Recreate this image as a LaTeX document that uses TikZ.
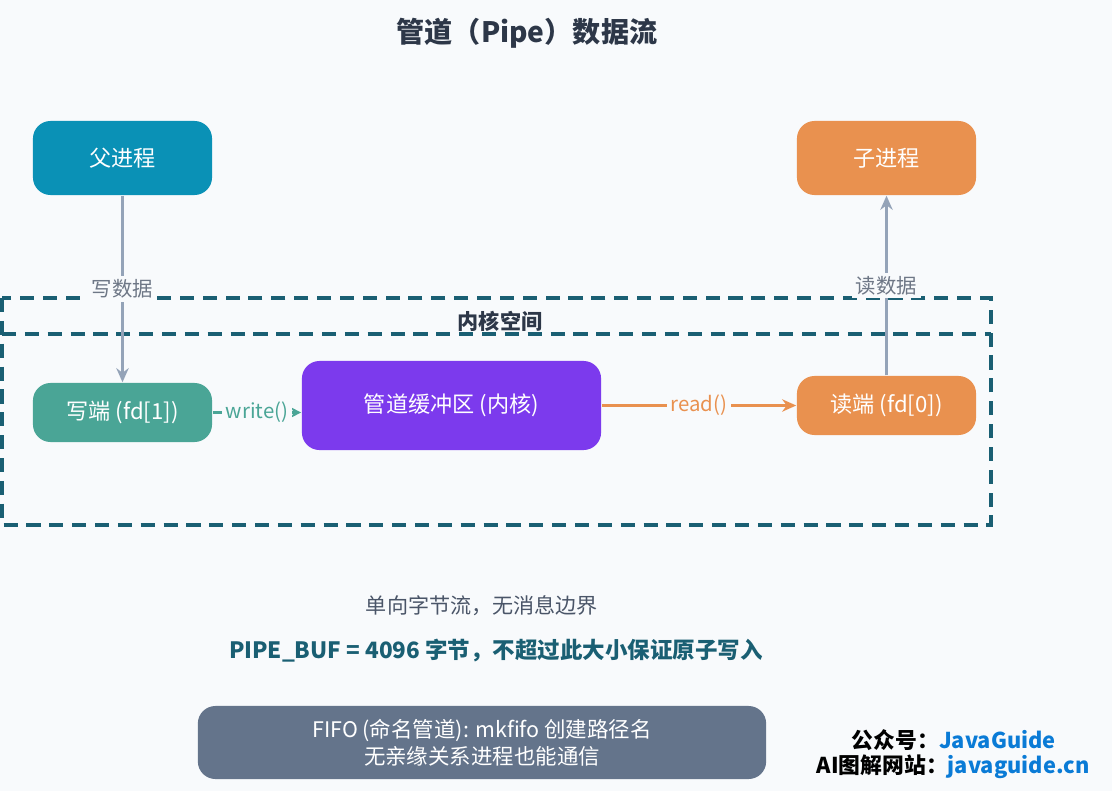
\documentclass[tikz,border=0pt]{standalone}
\usepackage{fontspec}
\setmainfont{Noto Sans CJK SC}
\usetikzlibrary{arrows.meta}
\definecolor{bg}{HTML}{F8FAFC}
\definecolor{ttl}{HTML}{2D3748}
\definecolor{fatherc}{HTML}{0A91B6}
\definecolor{childc}{HTML}{E9914F}
\definecolor{writec}{HTML}{4AA596}
\definecolor{bufc}{HTML}{7C3AED}
\definecolor{kern}{HTML}{1A5F73}
\definecolor{grayl}{HTML}{94A3B8}
\definecolor{fifoc}{HTML}{64748B}
\definecolor{txtg}{HTML}{4A5568}
\definecolor{blu}{HTML}{0A7BD6}
\tikzset{
  box/.style={draw=none,rounded corners=5pt,text=white,font=\fontsize{6.3}{7.5}\selectfont,inner sep=0pt},
  con/.style={line width=0.7pt,-{Stealth[length=4pt,width=3.5pt]}},
  lbl/.style={font=\fontsize{5.8}{7}\selectfont,fill=bg,inner sep=1pt},
  kdash/.style={kern,line width=0.9pt,dash pattern=on 4pt off 2.5pt},
}
\begin{document}
\begin{tikzpicture}[x=0.01cm,y=-0.01cm]
\fill[bg] (0,0) rectangle (1112,791);
\useasboundingbox (0,0) rectangle (1112,791);
\node[font=\bfseries\fontsize{8}{10}\selectfont,text=ttl] (title) at (527,33) {管道（Pipe）数据流};
% kernel region
\draw[kdash] (2,298) rectangle (991,525);
\coordinate (kl) at (2,334); \coordinate (kr) at (991,334);
\draw[kdash] (kl) -- (kr);
\node[font=\bfseries\fontsize{6}{7}\selectfont,text=ttl] (kt) at (500,321) {内核空间};
% boxes
\node[box,fill=fatherc,minimum width=1.79cm,minimum height=0.74cm] (father) at (122.5,158) {父进程};
\node[box,fill=childc,minimum width=1.79cm,minimum height=0.74cm] (child) at (886.5,158) {子进程};
\node[box,fill=writec,minimum width=1.79cm,minimum height=0.59cm] (wend) at (122.5,412.5) {写端 (fd[1])};
\node[box,fill=bufc,minimum width=2.99cm,minimum height=0.89cm] (buf) at (451.5,405.5) {管道缓冲区 (内核)};
\node[box,fill=childc,minimum width=1.79cm,minimum height=0.59cm] (rend) at (886.5,405.5) {读端 (fd[0])};
% connectors
\draw[con,grayl] (father) -- node[lbl,text=txtg!80,pos=0.5] {写数据} (wend);
\draw[con,writec,-{Stealth[length=3pt,width=3pt]}] (wend.east) -- node[lbl,text=writec,pos=0.5] {write()} (buf.west|-wend.east);
\draw[con,childc] (buf.east|-rend.west) -- node[lbl,text=childc,pos=0.5] {read()} (rend.west);
\draw[con,grayl] (rend) -- node[lbl,text=txtg!80,pos=0.5] {读数据} (child);
% notes
\node[font=\fontsize{6}{7}\selectfont,text=txtg] (n1) at (482,606) {单向字节流，无消息边界};
\node[font=\bfseries\fontsize{6.4}{7}\selectfont,text=kern] (n2) at (496,651) {PIPE\_BUF = 4096 字节，不超过此大小保证原子写入};
\node[box,fill=fifoc,minimum width=5.68cm,minimum height=0.73cm,align=center,font=\fontsize{6.1}{7.6}\selectfont] (fifo) at (482,742.5) {FIFO (命名管道): mkfifo 创建路径名\\无亲缘关系进程也能通信};
\node[font=\bfseries\fontsize{6.2}{7}\selectfont,anchor=east] (w1) at (1068,740) {公众号：\textcolor{blu}{JavaGuide}};
\node[font=\bfseries\fontsize{6.2}{7}\selectfont,anchor=east] (w2) at (1102,767) {AI图解网站：\textcolor{blu}{javaguide.cn}};
\end{tikzpicture}
\end{document}
